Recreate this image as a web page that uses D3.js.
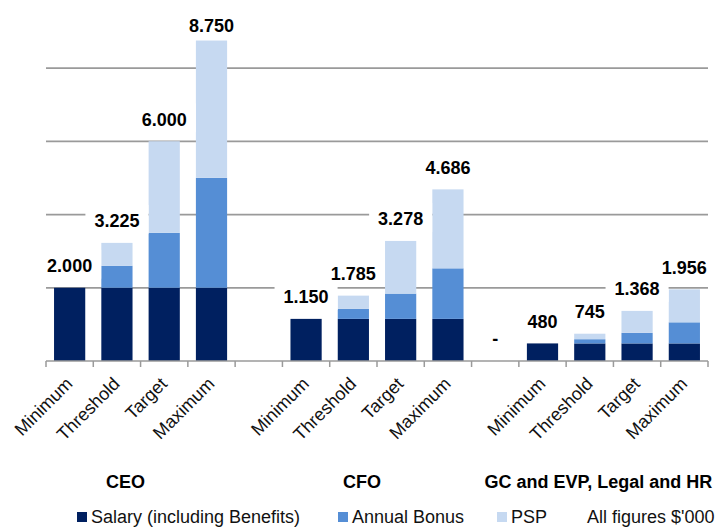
<!DOCTYPE html>
<html lang="en">
<head>
  <meta charset="UTF-8">
  <title>Remuneration scenarios</title>
  <script src="https://cdn.jsdelivr.net/npm/d3@7/dist/d3.min.js"></script>
  <style>
    * { margin: 0; padding: 0; }
    body { background: #fff; }
    svg { display: block; font-family: "Liberation Sans", Arial, sans-serif; }
  </style>
</head>
<body>
  <div id="chart"></div>
  <script>
  // categories (empty strings are the spacer slots between groups)
  var categories = ["Minimum", "Threshold", "Target", "Maximum", "",
                    "Minimum", "Threshold", "Target", "Maximum", "",
                    "Minimum", "Threshold", "Target", "Maximum"];
  var groups = ["CEO", "CFO", "GC and EVP, Legal and HR"];
  // values in $'000, null = no data
  var salary = [2000, 2000, 2000, 2000, null, 1150, 1150, 1150, 1150, 0, 480, 480, 480, 480];
  var bonus  = [0, 600, 1500, 3000, null, 0, 276, 690, 1380, 0, 0, 115, 288, 576];
  var psp    = [0, 625, 2500, 3750, null, 0, 359, 1438, 2156, 0, 0, 150, 600, 900];
  var seriesNames = ["Salary (including Benefits)", "Annual Bonus", "PSP"];
  var seriesColors = ["#002060", "#558ed5", "#c6d9f1"];
  var yTicks = [2000, 4000, 6000, 8000];

  var width = 718, height = 528;
  var svg = d3.select("#chart").append("svg")
      .attr("width", width)
      .attr("height", height);

  var x = d3.scaleBand()
      .domain(d3.range(categories.length))
      .range([46, 708])
      .paddingInner(0.34)
      .paddingOuter(0.17);
  var y = d3.scaleLinear().domain([0, 8000]).range([361, 68]);

  // gridlines
  svg.append("g").selectAll("line")
    .data(yTicks)
    .enter().append("line")
      .attr("x1", 46).attr("x2", 708)
      .attr("y1", function (d) { return y(d); })
      .attr("y2", function (d) { return y(d); })
      .attr("stroke", "#9a9a9a")
      .attr("stroke-width", 1.75);

  // stack the three series
  var rows = categories.map(function (c, i) {
    return { i: i, s0: salary[i] || 0, s1: bonus[i] || 0, s2: psp[i] || 0, missing: salary[i] === null };
  });
  var stack = d3.stack().keys(["s0", "s1", "s2"]);
  var layers = stack(rows);

  svg.append("g").selectAll("g")
    .data(layers)
    .enter().append("g")
      .attr("fill", function (d, i) { return seriesColors[i]; })
    .selectAll("rect")
    .data(function (d) { return d; })
    .enter().append("rect")
      .attr("x", function (d) { return x(d.data.i); })
      .attr("width", x.bandwidth())
      .attr("y", function (d) { return y(d[1]); })
      .attr("height", function (d) { return y(d[0]) - y(d[1]); });

  // x axis line with ticks at the slot borders
  var step = x.step();
  var axis = svg.append("g");
  axis.append("line")
    .attr("x1", 46).attr("x2", 708)
    .attr("y1", 361).attr("y2", 361)
    .attr("stroke", "#9a9a9a").attr("stroke-width", 1.5);
  axis.selectAll(".tick")
    .data(d3.range(categories.length + 1))
    .enter().append("line")
      .attr("x1", function (d) { return 46 + d * step; })
      .attr("x2", function (d) { return 46 + d * step; })
      .attr("y1", 361).attr("y2", 367)
      .attr("stroke", "#9a9a9a").attr("stroke-width", 1.5);

  axis.selectAll("text")
    .data(categories)
    .enter().append("text")
      .attr("transform", function (d, i) {
        return "translate(" + (x(i) + x.bandwidth() / 2 + 4) + ",385) rotate(-45)";
      })
      .attr("text-anchor", "end")
      .style("font-size", "18px")
      .attr("fill", "#111")
      .text(function (d) { return d; });

  // total labels with white boxes
  var fmt = d3.formatLocale({ decimal: ",", thousands: ".", grouping: [3], currency: ["$", ""] }).format(",d");
  var labels = svg.append("g");
  rows.forEach(function (r) {
    if (r.missing) return;
    var total = r.s0 + r.s1 + r.s2;
    var cy = Math.max(y(total) - 22, 26);
    var cx = x(r.i) + x.bandwidth() / 2;
    var box = labels.append("rect").attr("fill", "#fff");
    var t = labels.append("text")
      .attr("x", cx).attr("y", cy).attr("dy", "0.35em")
      .attr("text-anchor", "middle")
      .style("font-size", "18px").style("font-weight", "bold")
      .attr("fill", "#000")
      .text(total === 0 ? "-" : fmt(total));
    var bb = t.node().getBBox();
    box.attr("x", bb.x - 9).attr("width", bb.width + 18)
      .attr("y", cy - 16).attr("height", 29);
  });

  // group titles
  svg.append("g").selectAll("text")
    .data(groups)
    .enter().append("text")
      .attr("x", function (d, i) { return x(i * 5) + 1.5 * step + x.bandwidth() / 2 - 15; })
      .attr("y", 488)
      .attr("text-anchor", "middle")
      .style("font-size", "18px").style("font-weight", "bold")
      .attr("fill", "#000")
      .text(function (d) { return d; });

  // legend
  var legendX = [77, 338, 497];
  var legend = svg.append("g");
  seriesNames.forEach(function (name, i) {
    legend.append("rect")
      .attr("x", legendX[i]).attr("y", 512)
      .attr("width", 10).attr("height", 10)
      .attr("fill", seriesColors[i]);
    legend.append("text")
      .attr("x", legendX[i] + 14).attr("y", 523)
      .style("font-size", "18px").attr("fill", "#111")
      .text(name);
  });
  legend.append("text")
    .attr("x", 587).attr("y", 523)
    .style("font-size", "18px").attr("fill", "#111")
    .text("All figures $'000");
  </script>
</body>
</html>
